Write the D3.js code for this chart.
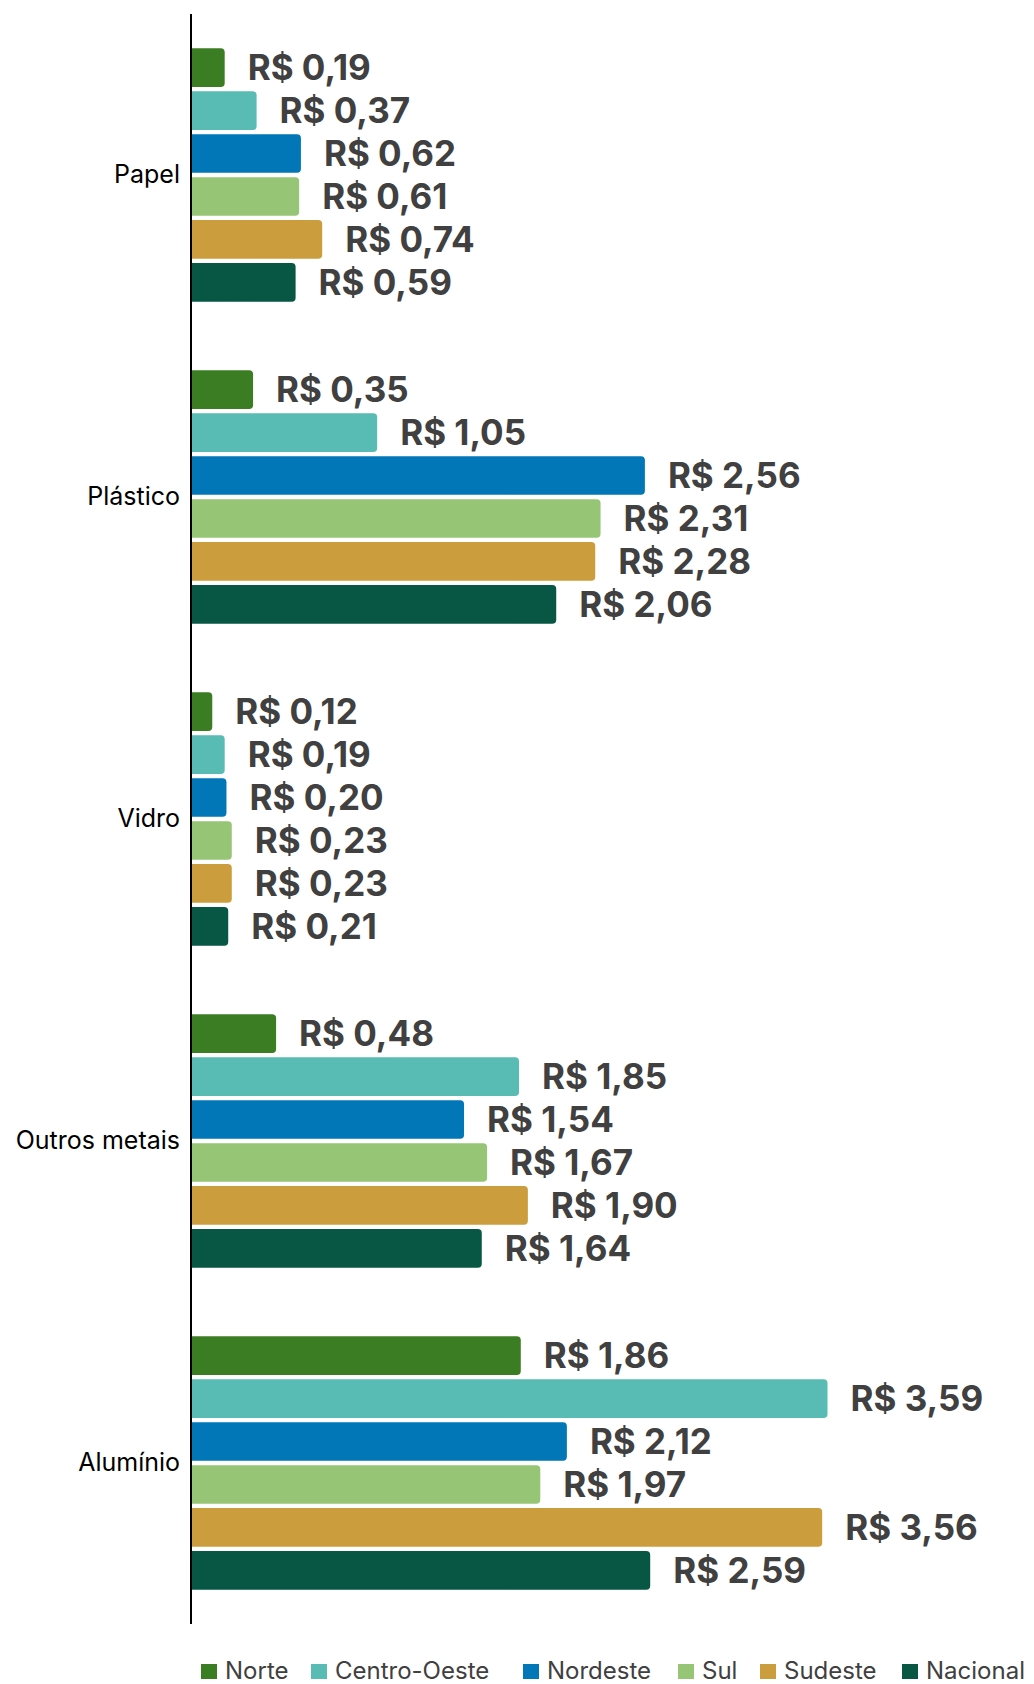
<!DOCTYPE html>
<html>
<head>
<meta charset="utf-8">
<script src="https://cdn.jsdelivr.net/npm/d3@7"></script>
<style>
  body { margin: 0; background: #fff; }
  svg { display: block; }
</style>
</head>
<body>
<div id="chart"></div>
<script>
// data
var categories = ["Papel", "Plástico", "Vidro", "Outros metais", "Alumínio"];
var regions = ["Norte", "Centro-Oeste", "Nordeste", "Sul", "Sudeste", "Nacional"];
var norte       = [0.19, 0.35, 0.12, 0.48, 1.86];
var centroOeste = [0.37, 1.05, 0.19, 1.85, 3.59];
var nordeste    = [0.62, 2.56, 0.20, 1.54, 2.12];
var sul         = [0.61, 2.31, 0.23, 1.67, 1.97];
var sudeste     = [0.74, 2.28, 0.23, 1.90, 3.56];
var nacional    = [0.59, 2.06, 0.21, 1.64, 2.59];
var colors = ["#3b7d23", "#58bbb4", "#0177b7", "#96c675", "#cc9d3d", "#075744"];

var series = [norte, centroOeste, nordeste, sul, sudeste, nacional];

var width = 1034, height = 1684;
var axisX = 191;

var svg = d3.select("#chart").append("svg")
    .attr("width", width)
    .attr("height", height);

// scales
var y = d3.scaleBand()
    .domain(categories)
    .range([14, 1624])
    .paddingInner(0.2)
    .paddingOuter(0.1);

var yInner = d3.scaleBand()
    .domain(regions)
    .range([0, y.bandwidth()])
    .paddingInner(0.1)
    .paddingOuter(0.05);

var x = d3.scaleLinear()
    .domain([0, 4])
    .range([axisX, axisX + 4 * 177.3]);

var color = d3.scaleOrdinal().domain(regions).range(colors);

// flatten rows
var rows = [];
categories.forEach(function(c, i) {
  regions.forEach(function(r, j) {
    rows.push({cat: c, region: r, value: series[j][i]});
  });
});

function fmt(v) {
  return "R$ " + v.toFixed(2).replace(".", ",");
}

// bar with rounded right corners
function barPath(d) {
  var x0 = x(0), x1 = x(d.value);
  var y0 = y(d.cat) + yInner(d.region), h = yInner.bandwidth();
  var r = Math.min(4, (x1 - x0) / 2);
  return "M" + x0 + "," + y0 +
    "H" + (x1 - r) +
    "Q" + x1 + "," + y0 + " " + x1 + "," + (y0 + r) +
    "V" + (y0 + h - r) +
    "Q" + x1 + "," + (y0 + h) + " " + (x1 - r) + "," + (y0 + h) +
    "H" + x0 + "Z";
}

svg.append("g").selectAll("path")
    .data(rows)
    .enter().append("path")
    .attr("d", barPath)
    .attr("fill", function(d) { return color(d.region); });

// value labels
svg.append("g").selectAll("text")
    .data(rows)
    .enter().append("text")
    .attr("x", function(d) { return x(d.value) + 23; })
    .attr("y", function(d) { return y(d.cat) + yInner(d.region) + yInner.bandwidth() / 2; })
    .attr("dy", "0.36em")
    .attr("font-family", "Inter, 'Open Sans', sans-serif")
    .attr("font-weight", 700)
    .attr("font-size", "35px")
    .attr("fill", "#404040")
    .text(function(d) { return fmt(d.value); });

// y axis
var yAxis = svg.append("g")
    .attr("transform", "translate(" + axisX + ",0)")
    .call(d3.axisLeft(y).tickSize(0).tickPadding(11));
yAxis.select(".domain").attr("stroke", "#000").attr("stroke-width", 2).attr("d", "M0,14V1624");
yAxis.selectAll("text")
    .attr("font-family", "Inter, sans-serif")
    .attr("font-size", "25px")
    .attr("fill", "#000");

// legend
var legendX = [201, 311, 523, 678, 760, 902];
var legend = svg.append("g").selectAll("g")
    .data(regions)
    .enter().append("g")
    .attr("transform", function(d, i) { return "translate(" + legendX[i] + ",1664)"; });
legend.append("rect")
    .attr("width", 16)
    .attr("height", 15)
    .attr("fill", function(d) { return color(d); });
legend.append("text")
    .attr("x", 24)
    .attr("y", 15)
    .attr("font-family", "Inter, sans-serif")
    .attr("font-size", "24px")
    .attr("fill", "#404040")
    .text(function(d) { return d; });
</script>
</body>
</html>
